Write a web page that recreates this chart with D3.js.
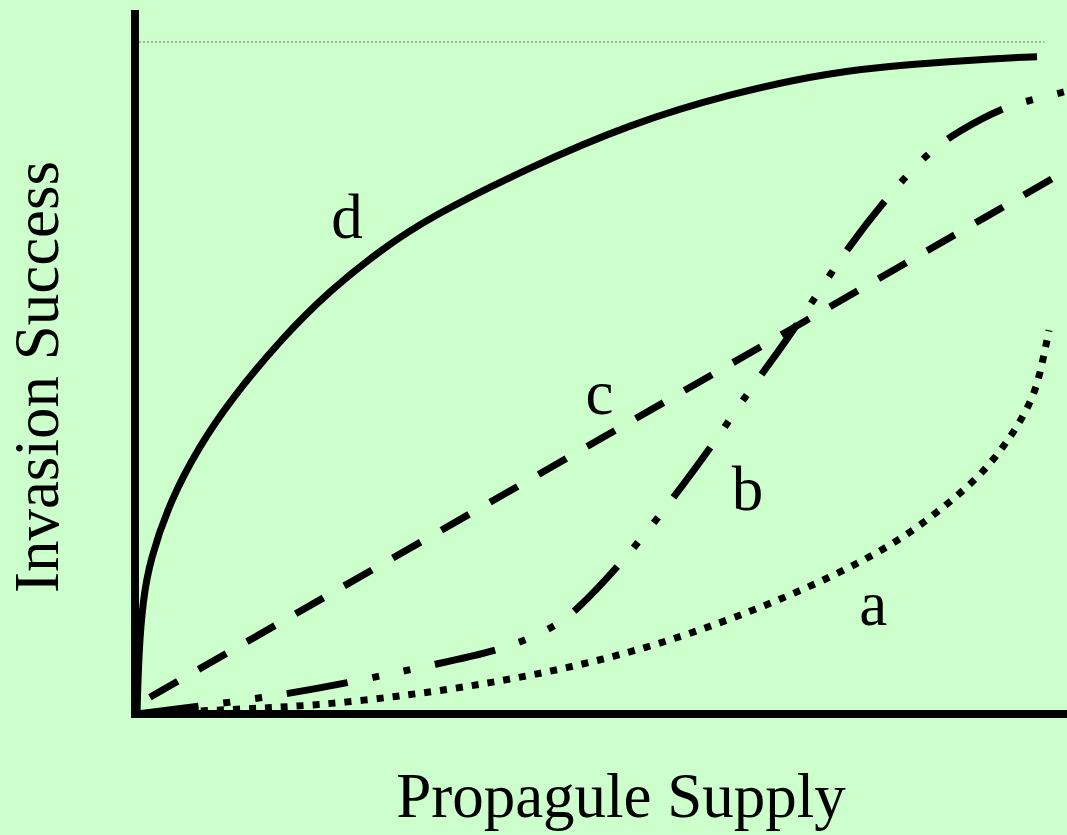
<!DOCTYPE html>
<html>
<head>
<meta charset="utf-8">
<script src="https://cdn.jsdelivr.net/npm/d3@7"></script>
<style>
    html, body { margin: 0; padding: 0; background: #ccffcc; }
    #container { width: 1067px; height: 835px; }
</style>
</head>
<body>
<div id="container"></div>
<script>
// curve values (x: propagule supply, y: invasion success, both 0-100)
const curveD = [
    [0, 0], [0.2, 9.5], [0.65, 17.0], [1.4, 22.9], [3.6, 31.8], [6.8, 40.0],
    [10.1, 46.7], [15.5, 55.7], [20.9, 63.1], [26.3, 69.0], [31.7, 74.0],
    [42.5, 81.4], [53.3, 87.8], [64.1, 92.3], [74.9, 95.5], [83.6, 96.7],
    [93.3, 97.6], [97.3, 97.8]
];
const curveC = [[1.4, 2.5], [50.1, 40.9], [100, 80.5]];
const curveB = [
    [0, 0], [13.0, 2.2], [22.8, 4.6], [32.2, 7.4], [39.2, 9.4], [44.6, 12.5],
    [47.4, 15.2], [52.0, 21.9], [56.2, 28.9], [62.2, 39.9], [65.7, 47.2],
    [69.5, 54.2], [72.8, 60.9], [76.9, 69.5], [80.9, 76.6], [85.4, 83.5],
    [89.0, 86.9], [93.7, 90.3], [96.8, 91.4], [100.3, 92.6]
];
const curveA = [
    [0, 0], [10.4, 0.7], [19.0, 1.2], [29.5, 2.8], [38.2, 4.6], [46.5, 6.8],
    [55.1, 9.8], [63.0, 13.5], [69.5, 17.0], [76.0, 21.0], [82.2, 25.6],
    [86.1, 29.6], [88.8, 32.6], [91.4, 35.9], [93.6, 39.6], [95.5, 43.5],
    [97.1, 47.8], [97.9, 52.4], [98.6, 57.1]
];
const curveNames = ['d', 'c', 'b', 'a'];
// label anchor points, same units
const labelPos = [[22.7, 70.8], [50.0, 44.6], [66.0, 30.3], [79.6, 13.2]];
const asymptote = 100;
const xLabel = 'Propagule Supply';
const yLabel = 'Invasion Success';

const fontFamily = '"Liberation Serif", "Times New Roman", serif';

const svg = d3.select('#container')
    .append('svg')
    .attr('width', 1067)
    .attr('height', 835)
    .style('background-color', '#ccffcc');

const x = d3.scaleLinear().domain([0, 100]).range([137, 1062]);
const y = d3.scaleLinear().domain([0, 100]).range([714, 42]);

const line = d3.line()
    .x(d => x(d[0]))
    .y(d => y(d[1]))
    .curve(d3.curveBasis);

// thin dotted asymptote at the top
svg.append('line')
    .attr('x1', x(0) + 2)
    .attr('x2', x(98.1))
    .attr('y1', y(asymptote))
    .attr('y2', y(asymptote))
    .attr('stroke', '#999999')
    .attr('stroke-width', 1.5)
    .attr('stroke-dasharray', '2,2');

// axes
svg.append('line')
    .attr('x1', 135).attr('x2', 135)
    .attr('y1', 10).attr('y2', 718)
    .attr('stroke', '#000000')
    .attr('stroke-width', 8);
svg.append('line')
    .attr('x1', 131).attr('x2', 1067)
    .attr('y1', y(0)).attr('y2', y(0))
    .attr('stroke', '#000000')
    .attr('stroke-width', 8);

const styles = [
    { data: curveD, dash: null },
    { data: curveC, dash: '32,24' },
    { data: curveB, dash: '62,25,7,25,7,25' },
    { data: curveA, dash: '7,9' },
];
styles.map(s => {
    svg.append('path')
        .attr('d', line(s.data))
        .attr('fill', 'none')
        .attr('stroke', '#000000')
        .attr('stroke-width', 7)
        .attr('stroke-linecap', 'butt')
        .attr('stroke-dasharray', s.dash);
});

// curve labels
curveNames.map((name, i) => {
    svg.append('text')
        .text(name)
        .attr('x', x(labelPos[i][0]))
        .attr('y', y(labelPos[i][1]))
        .attr('text-anchor', 'middle')
        .style('font-family', fontFamily)
        .style('font-size', '63px')
        .style('fill', '#000000');
});

// axis titles
svg.append('text')
    .text(xLabel)
    .attr('x', 621)
    .attr('y', 817)
    .attr('text-anchor', 'middle')
    .style('font-family', fontFamily)
    .style('font-size', '63px')
    .style('fill', '#000000');
svg.append('text')
    .text(yLabel)
    .attr('text-anchor', 'middle')
    .attr('transform', 'translate(58,377) rotate(-90)')
    .style('font-family', fontFamily)
    .style('font-size', '63px')
    .style('fill', '#000000');
</script>
</body>
</html>
